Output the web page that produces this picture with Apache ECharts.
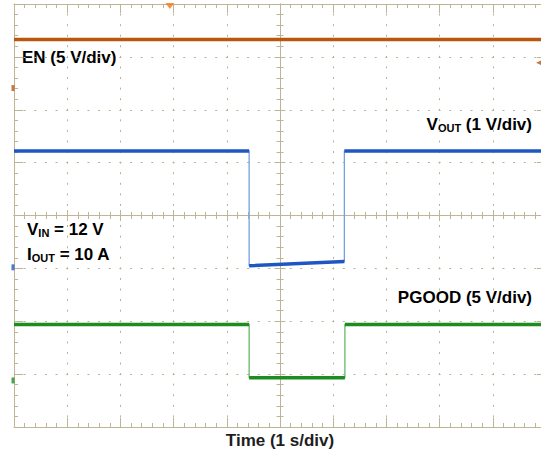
<!DOCTYPE html>
<html>
<head>
<meta charset="utf-8">
<script src="https://cdn.jsdelivr.net/npm/echarts@6/dist/echarts.min.js"></script>
<style>
  html, body { margin: 0; padding: 0; background: #fff; }
  #chart { width: 541px; height: 457px; }
</style>
</head>
<body>
<div id="chart"></div>
<script>
// scope capture: time in s (trigger at screen centre), levels in volts
const enTime = [-5, 5];
const enVolts = [4.6, 4.6];
const voutTime = [-5, -0.58, -0.58, 1.21, 1.21, 5];
const voutVolts = [2.2, 2.2, 0.03, 0.11, 2.2, 2.2];
const pgoodTime = [-5, -0.58, -0.58, 1.22, 1.22, 5];
const pgoodVolts = [5.3, 5.3, 0.25, 0.25, 5.3, 5.3];

const channelNames = ['EN', 'VOUT', 'PGOOD'];
const voltsPerDiv = [5, 1, 5];
const groundDiv = [2.41, -0.98, -3.12];   // ground marker, divisions from centre
const channelColors = ['#b9570f', '#1f57c2', '#1f8c1f'];
const edgeColors = ['#cf8a52', '#74a0e2', '#66b866'];

const triggerTime = -2.07;  // s
const triggerLevel = 2.4;   // V, on EN

const axisColor = '#bdb595';
const dotColor = '#b9b193';
const textColor = '#1e1e1e';
const fontFamily = '"Liberation Sans", Arial, sans-serif';

const myChart = echarts.init(document.getElementById('chart'), null, { renderer: 'svg' });

function toDiv(v, ch) {
    return v / voltsPerDiv[ch] + groundDiv[ch];
}

const traces = [[enTime, enVolts], [voutTime, voutVolts], [pgoodTime, pgoodVolts]];
const series = [];
traces.forEach(([t, v], ch) => {
    const pts = t.map((x, i) => [x, toDiv(v[i], ch)]);
    // flat parts drawn thick, edges stay thin
    const flat = [];
    for (let i = 0; i + 1 < pts.length; i += 2) {
        flat.push(pts[i], pts[i + 1], [pts[i + 1][0], '-']);
    }
    series.push({
        type: 'line', name: channelNames[ch] + ' edge', data: pts,
        showSymbol: false, silent: true,
        lineStyle: { color: edgeColors[ch], width: 1.3 }
    });
    series.push({
        type: 'line', name: channelNames[ch], data: flat,
        showSymbol: false, connectNulls: false, silent: true,
        lineStyle: { color: channelColors[ch], width: 3.5 }
    });
});

// ground markers on the left edge
series.push({
    type: 'scatter', silent: true, clip: false,
    symbol: 'rect', symbolSize: [3, 6], symbolOffset: [-1, 0],
    data: groundDiv.map((g, ch) => ({ value: [-5, g], itemStyle: { color: channelColors[ch] } }))
});
// trigger position and level
series.push({
    type: 'scatter', silent: true, clip: false,
    symbol: 'triangle', symbolRotate: 180, symbolSize: [9, 6], symbolOffset: [0, 2],
    itemStyle: { color: '#f07a1a' },
    data: [[triggerTime, 4]]
});
series.push({
    type: 'scatter', silent: true, clip: false,
    symbol: 'arrow', symbolRotate: 90, symbolSize: [6, 9], symbolOffset: [-10, 0],
    itemStyle: { color: channelColors[0] },
    data: [[5, toDiv(triggerLevel, 0)]]
});

function scaleAxis(range, pos, border, inside, tickLen, minorLen) {
    return {
        type: 'value', min: -range, max: range, interval: 1, position: pos,
        axisLine: { onZero: !border, onZeroAxisIndex: 0, lineStyle: { color: axisColor, width: 1 } },
        axisTick: { show: true, inside: inside, length: tickLen, lineStyle: { color: axisColor } },
        minorTick: { show: true, splitNumber: 5, length: minorLen, lineStyle: { color: axisColor } },
        axisLabel: { show: false },
        splitLine: { show: false }
    };
}

const xMain = scaleAxis(5, 'bottom', true, true, 9, 4);
xMain.splitLine = { show: true, lineStyle: { color: dotColor, width: 1, type: [2, 8.575], dashOffset: 1 } };
xMain.name = 'Time (1 s/div)';
xMain.nameLocation = 'middle';
xMain.nameGap = 5;
xMain.nameTextStyle = { color: textColor, fontSize: 17, fontWeight: 'bold', fontFamily: fontFamily };

const yMain = scaleAxis(4, 'left', true, true, 9, 4);
yMain.splitLine = { show: true, lineStyle: { color: dotColor, width: 1, type: [2, 8.64], dashOffset: 1 } };

const rich = {
    b: { fontSize: 17, fontWeight: 'bold', fontFamily: fontFamily, color: textColor },
    s: { fontSize: 11, fontWeight: 'bold', fontFamily: fontFamily, color: textColor, padding: [6, 0, 0, 0] }
};

myChart.setOption({
    animation: false,
    backgroundColor: '#fff',
    grid: { left: 14, top: 4, width: 532, height: 423, outerBoundsMode: 'none', containLabel: false },
    xAxis: [
        xMain,
        scaleAxis(5, 'top', true, true, 9, 4),
        scaleAxis(5, 'bottom', false, true, 5.5, 3.5),
        scaleAxis(5, 'bottom', false, false, 5.5, 3.5)
    ],
    yAxis: [
        yMain,
        scaleAxis(4, 'right', true, true, 9, 4),
        scaleAxis(4, 'left', false, true, 5.5, 3.5),
        scaleAxis(4, 'left', false, false, 5.5, 3.5)
    ],
    graphic: [
        { type: 'text', left: 22, top: 49, style: { text: '{b|EN (5 V/div)}', rich: rich } },
        { type: 'text', right: 9, top: 116, style: { text: '{b|V}{s|OUT}{b| (1 V/div)}', rich: rich } },
        { type: 'text', left: 27, top: 221, style: { text: '{b|V}{s|IN}{b| = 12 V}', rich: rich } },
        { type: 'text', left: 27, top: 246, style: { text: '{b|I}{s|OUT}{b| = 10 A}', rich: rich } },
        { type: 'text', right: 9, top: 289, style: { text: '{b|PGOOD (5 V/div)}', rich: rich } }
    ],
    series: series
});
</script>
</body>
</html>
